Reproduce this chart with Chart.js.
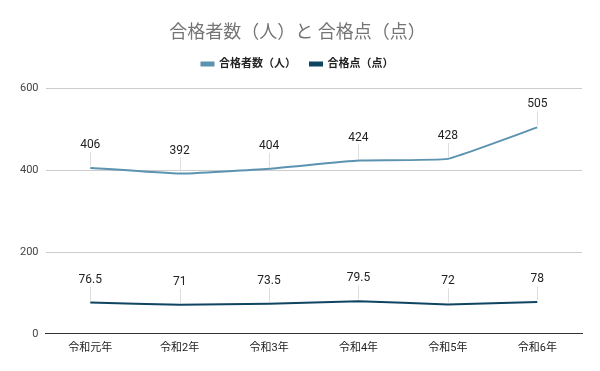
<!DOCTYPE html>
<html lang="ja">
  <head>
    <meta charset="UTF-8" />
    <title>合格者数（人）と 合格点（点）</title>
    <script src="https://cdn.jsdelivr.net/npm/chart.js"></script>
    <style>
      html, body { margin: 0; padding: 0; background: #fff; }
      #wrap { width: 600px; height: 371px; }
    </style>
  </head>
  <body>
    <div id="wrap"><canvas id="chart"></canvas></div>

    <script>
    const categories = ['令和元年', '令和2年', '令和3年', '令和4年', '令和5年', '令和6年'];
    const passers = [406, 392, 404, 424, 428, 505];
    const passMarks = [76.5, 71, 73.5, 79.5, 72, 78];
    const yTicks = [0, 200, 400, 600];

    const FONT = "Roboto, 'Noto Sans CJK JP', sans-serif";

    // value labels above each point, with a thin leader line like Sheets does
    const pointLabels = {
      id: 'pointLabels',
      afterDatasetsDraw(chart) {
        const ctx = chart.ctx;
        ctx.save();
        chart.data.datasets.forEach((ds, i) => {
          const meta = chart.getDatasetMeta(i);
          meta.data.forEach((pt, j) => {
            ctx.strokeStyle = '#dddddd';
            ctx.lineWidth = 1;
            ctx.beginPath();
            ctx.moveTo(Math.round(pt.x) + 0.5, pt.y - 2);
            ctx.lineTo(Math.round(pt.x) + 0.5, pt.y - 16);
            ctx.stroke();
            ctx.fillStyle = '#222222';
            ctx.font = '12px ' + FONT;
            ctx.textAlign = 'center';
            ctx.textBaseline = 'middle';
            ctx.fillText(String(ds.data[j]), pt.x, pt.y - 23);
          });
        });
        ctx.restore();
      }
    };

    // a bit more room under the legend
    const legendGap = {
      id: 'legendGap',
      beforeInit(chart) {
        const fit = chart.legend.fit;
        chart.legend.fit = function () {
          fit.bind(chart.legend)();
          this.height += 9;
        };
      }
    };

    new Chart(document.getElementById('chart'), {
      type: 'line',
      data: {
        labels: categories,
        datasets: [
          {
            label: '合格者数（人）',
            data: passers,
            borderColor: '#5b93b0',
            backgroundColor: '#5b93b0',
            borderWidth: 2,
            pointRadius: 0,
            tension: 0.1
          },
          {
            label: '合格点（点）',
            data: passMarks,
            borderColor: '#0f4462',
            backgroundColor: '#0f4462',
            borderWidth: 2,
            pointRadius: 0,
            tension: 0.1
          }
        ]
      },
      options: {
        responsive: true,
        maintainAspectRatio: false,
        animation: false,
        layout: { padding: { left: 13, right: 18, top: 0, bottom: 8 } },
        plugins: {
          title: {
            display: true,
            text: '合格者数（人）と 合格点（点）',
            color: '#757575',
            font: { family: FONT, size: 18, weight: 'normal' },
            padding: { top: 23, bottom: 0 }
          },
          legend: {
            position: 'top',
            labels: {
              color: '#222222',
              font: { family: FONT, size: 11, weight: 'bold' },
              boxWidth: 12,
              boxHeight: 3,
              padding: 14
            }
          },
          tooltip: { enabled: false }
        },
        scales: {
          x: {
            offset: true,
            grid: { display: false, drawTicks: false },
            border: { color: '#333333', width: 1 },
            ticks: { color: '#222222', font: { family: FONT, size: 11 }, padding: 8 }
          },
          y: {
            min: 0,
            max: 600,
            afterBuildTicks: (axis) => { axis.ticks = yTicks.map(v => ({ value: v })); },
            border: { display: false },
            grid: {
              drawTicks: false,
              color: (c) => c.tick && c.tick.value === 0 ? '#333333' : '#cccccc'
            },
            ticks: { color: '#444444', font: { family: FONT, size: 11 }, padding: 7 }
          }
        }
      },
      plugins: [pointLabels, legendGap]
    });
    </script>
  </body>
</html>
